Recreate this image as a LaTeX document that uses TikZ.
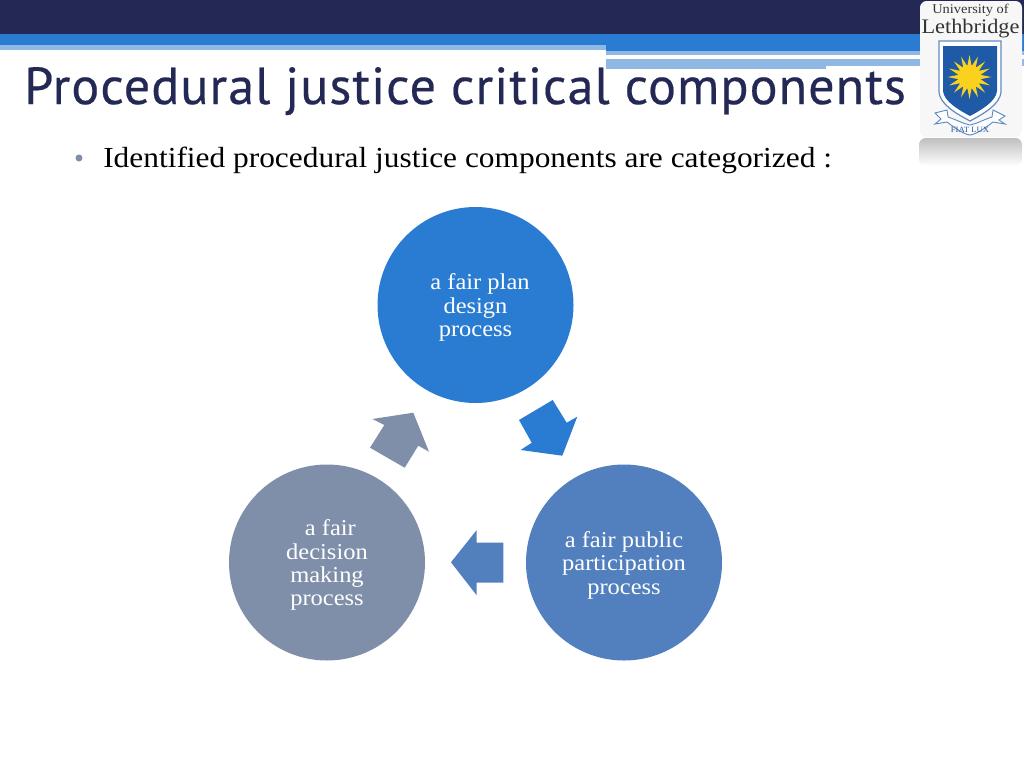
\documentclass[tikz,border=0pt]{standalone}
\usepackage{fontspec}
\setmainfont[FakeStretch=1.08]{Liberation Serif}
\newfontfamily\titlefont[LetterSpace=2,FakeBold=0.4]{PT Sans}
\definecolor{navy}{RGB}{35,41,84}
\definecolor{midblue}{RGB}{42,124,211}
\definecolor{paleblue}{RGB}{143,184,228}
\definecolor{steelblue}{RGB}{82,127,189}
\definecolor{slategrey}{RGB}{127,143,169}
\definecolor{shieldblue}{RGB}{30,90,165}
\definecolor{sunyellow}{RGB}{250,210,30}
\newcommand{\stepgap}{\rule{0pt}{16pt}}
\tikzset{
  stepcircle/.style={circle,minimum size=147pt,inner sep=0pt,text=white,align=center,font=\fontsize{17}{17.6}\selectfont},
  logotext/.style={anchor=base,inner sep=0pt,text=black!80},
}
\begin{document}
\begin{tikzpicture}[x=0.75pt,y=0.75pt,yscale=-1,xscale=1]
\useasboundingbox (0,0) rectangle (1024,768);

%Header bands
\fill [navy] (0,0) rectangle (1024,34);
\fill [midblue] (0,34) rectangle (1024,45);
\fill [paleblue] (0,45) rectangle (606,50);
\fill [midblue] (606,45) rectangle (1024,51);
\fill [paleblue] (606,51) rectangle (1024,55);
\fill [paleblue] (606,59) rectangle (826,69);
\fill [paleblue] (826,59) rectangle (1024,66);

%Logo
\fill [black!3, rounded corners=5] (920,1) rectangle (1022,137);
\shade [top color=black!25, bottom color=white, rounded corners=5] (919,138) rectangle (1022,166);
\draw [shieldblue!70, line width=0.9, fill=white] (939,41) -- (1001,41) -- (1001,92) .. controls (1000,104) and (985,113) .. (970,121) .. controls (955,113) and (940,104) .. (939,92) -- cycle;
\fill [shieldblue] (943,46) -- (997,46) -- (997,91) .. controls (996,101) and (983,109) .. (970,116) .. controls (957,109) and (944,101) .. (943,91) -- cycle;
\foreach \ang in {0,22.5,...,337.5} {
  \fill [sunyellow] ({969.5+22*cos(\ang)},{77+22*sin(\ang)}) -- ({969.5+10*cos(\ang+14)},{77+10*sin(\ang+14)}) -- ({969.5+10*cos(\ang-14)},{77+10*sin(\ang-14)}) -- cycle;
}
\fill [sunyellow] (969.5,77) circle (12);
\draw [shieldblue!70, line width=0.7, fill=white] (935,113) -- (947,110) -- (948,117) .. controls (957,120) and (964,124) .. (970,125) .. controls (976,124) and (983,120) .. (992,117) -- (993,110) -- (1005,116) -- (999,120) -- (1005,124) -- (993,122) .. controls (985,128) and (977,134) .. (970,135) .. controls (963,134) and (955,128) .. (947,122) -- (935,124) -- (941,119) -- cycle;

%Bullet
\fill [slategrey] (79,158) circle (3.5);

%Block arrows
\fill [midblue] (519,420) -- (552.7,400) -- (566.7,422.7) -- (577.3,416.7) -- (562.3,455.7) -- (520.7,450) -- (531.7,442.7) -- cycle;
\fill [steelblue] (503.3,542.7) -- (476.7,542.7) -- (476.7,530) -- (451,562.3) -- (476.7,595.3) -- (476.7,582.7) -- (503.3,582.7) -- cycle;
\fill [slategrey] (404.7,467.7) -- (370,447.7) -- (384.3,425) -- (372.3,419) -- (413.3,412.7) -- (429,451.7) -- (418.3,445.7) -- cycle;

% Text Node
\node (titletext) [anchor=base west, inner sep=0pt, text=navy, font=\titlefont\fontsize{39.1}{39.1}\selectfont] at (24,104) {Procedural justice critical components};
% Text Node
\node (bullettext) [anchor=base west, inner sep=0pt, font=\fontsize{21.8}{21.8}\selectfont] at (103,167) {Identified procedural justice components are categorized :};
% Text Node
\node (logotop) [logotext, font=\fontsize{10}{10}\selectfont] at (970.5,13) {University of};
% Text Node
\node (logoname) [logotext, font=\fontsize{15.5}{15.5}\selectfont] at (970.5,33) {Lethbridge};
% Text Node
\node (logomotto) [logotext, text=shieldblue, font=\fontsize{6}{6}\selectfont] at (970,132) {FIAT LUX};

%Circles
\node (plan) [stepcircle, fill=midblue] at (475.5,305) {\stepgap\hspace*{0.4em}a fair plan\\design\\process};
\node (public) [stepcircle, fill=steelblue] at (624,562.5) {\stepgap a fair public\\participation\\process};
\node (decision) [stepcircle, fill=slategrey] at (327,562.5) {\stepgap\hspace*{0.3em}a fair\\decision\\making\\process};

\end{tikzpicture}
\end{document}
